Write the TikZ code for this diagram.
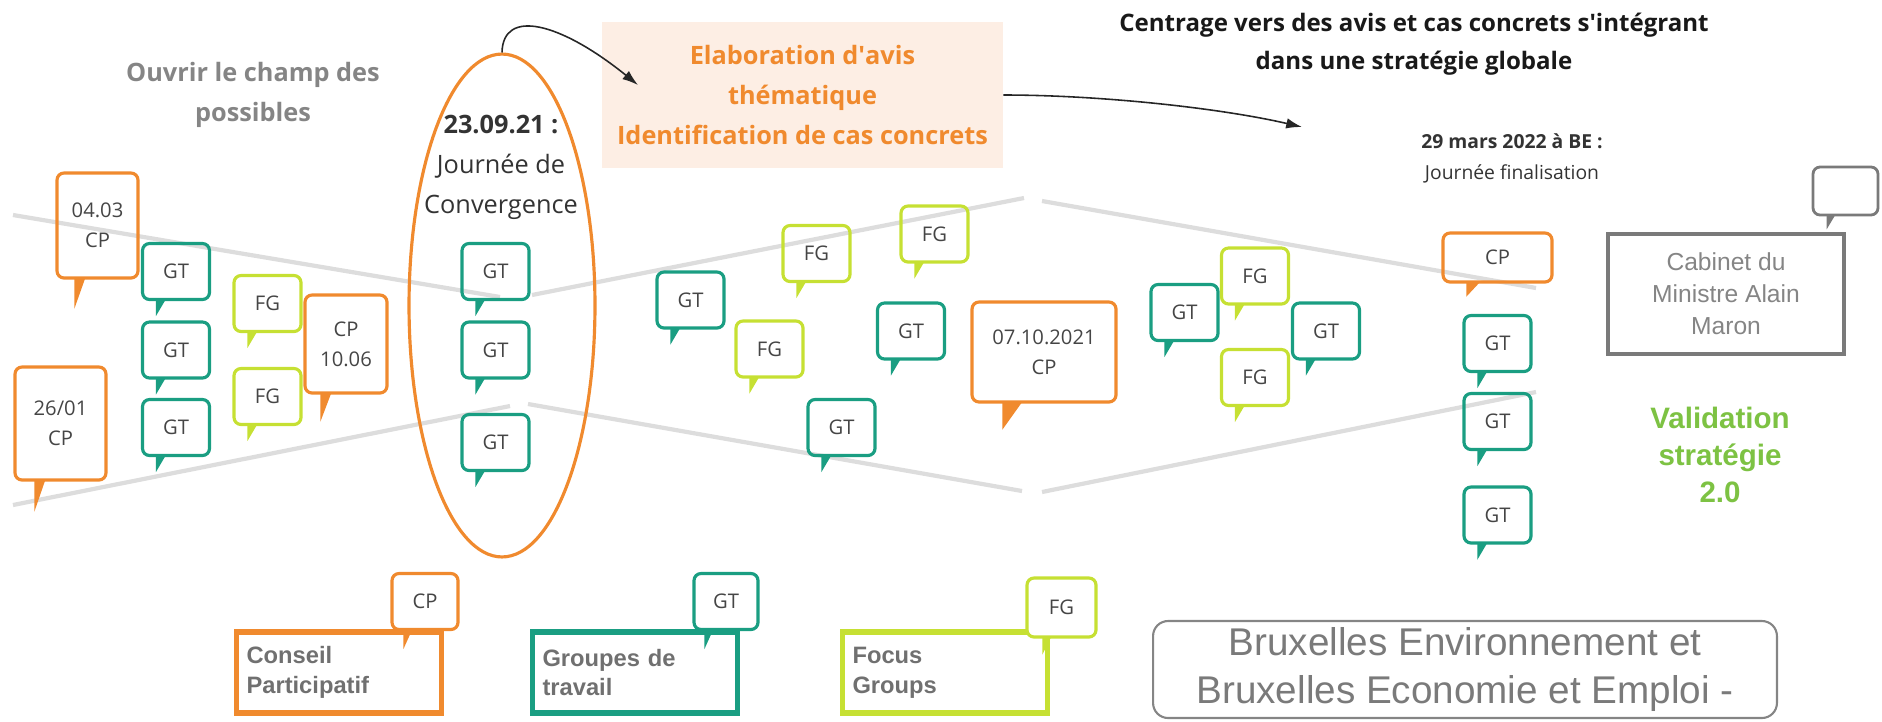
\documentclass[tikz,border=0pt]{standalone}
\usepackage{fontspec}
\setmainfont{Open Sans}
\newfontfamily\arialfont{Liberation Sans}
\usetikzlibrary{shapes.geometric,arrows.meta}

\definecolor{cporange}{HTML}{F08A2E}
\definecolor{gtteal}{HTML}{1A9E82}
\definecolor{fglime}{HTML}{C6E033}
\definecolor{valgreen}{HTML}{7DC243}
\definecolor{funnelgray}{HTML}{DDDDDD}
\definecolor{peach}{HTML}{FDEEE4}
\definecolor{bubtext}{HTML}{454545}
\definecolor{boxgray}{HTML}{7A7A7A}
\definecolor{softgray}{HTML}{858585}
\definecolor{legtext}{HTML}{707070}

\tikzset{
  bubble/.style={draw=#1, line width=1.8pt, rounded corners=4pt, minimum width=1.34cm, minimum height=1.12cm, inner sep=1pt, align=center, text=bubtext, font=\fontsize{11.5}{17}\selectfont},
  legend/.style={draw=#1, line width=3.2pt, minimum width=4.1cm, minimum height=1.62cm, text width=3.7cm, inner xsep=0.2cm, align=left, text=legtext, font=\arialfont\bfseries\fontsize{13.5}{17}\selectfont},
  funnel/.style={draw=funnelgray, line width=2.4pt},
  pointer/.style={-{Latex[length=9pt,width=6pt]}, line width=0.9pt, draw=black!85}
}
\newcommand{\tail}[5]{\fill[#2, shift={(#1.south west)}] (#3,-2) -- (#3+#4,-2) -- (#3,#5) -- cycle;}

\begin{document}
\begin{tikzpicture}[x=0.02cm, y=-0.02cm]
\useasboundingbox (0,0) rectangle (1882,721);

\draw[funnel] (13,215) -- (500,297);
\draw[funnel] (532,295) -- (1024,198);
\draw[funnel] (1042,201) -- (1536,288);
\draw[funnel] (13,505) -- (510,406);
\draw[funnel] (528,404) -- (1022,491);
\draw[funnel] (1042,492) -- (1536,392);

\node[text=softgray, align=center, font=\bfseries\fontsize{14.4}{22.8}\selectfont] (ouvrir) at (253,95) {Ouvrir le champ des\\possibles};
\node[fill=peach, minimum width=8.02cm, minimum height=2.92cm, text=cporange, align=center, font=\bfseries\fontsize{14.4}{22.8}\selectfont] (elab) at (802.5,95) {Elaboration d\textquotesingle avis\\thématique\\Identification de cas concrets};
\node[text=black!90, align=center, font=\bfseries\fontsize{13.7}{21.6}\selectfont] (centrage) at (1414,44) {Centrage vers des avis et cas concrets s\textquotesingle intégrant\\dans une stratégie globale};
\node[text=black!80, align=center, font=\fontsize{11}{17.6}\selectfont] (finale) at (1512,158.5) {\textbf{29 mars 2022 à BE :}\\Journée finalisation};

\node[ellipse, draw=cporange, line width=1.8pt, minimum width=3.72cm, minimum height=10.06cm] (conv) at (502,305.5) {};
\node[text=black!80, align=center, font=\fontsize{14.4}{22.8}\selectfont] (convtext) at (501,167.5) {\textbf{23.09.21 :}\\Journée de\\Convergence};

\coordinate (elabin) at (638,85);
\coordinate (centr) at (1302,127);
\draw[pointer] (conv.north) .. controls (503,8) and (560,22) .. (elabin);
\draw[pointer] (elab.east) .. controls (1100,95) and (1220,108) .. (centr);

\node[bubble=cporange, minimum width=1.62cm, minimum height=2.1cm] (cpMars) at (97.5,225.5) {04.03\\CP};
\tail{cpMars}{cporange}{19}{11}{29}
\node[bubble=cporange, minimum width=1.82cm, minimum height=2.26cm] (cpJan) at (60.5,423.5) {26/01\\CP};
\tail{cpJan}{cporange}{21}{11}{30}
\node[bubble=gtteal] (gtA) at (176,271.5) {GT};
\tail{gtA}{gtteal}{15}{10}{15}
\node[bubble=gtteal] (gtB) at (176,350) {GT};
\tail{gtB}{gtteal}{15}{10}{15}
\node[bubble=gtteal] (gtC) at (176,427.5) {GT};
\tail{gtC}{gtteal}{15}{10}{15}
\node[bubble=fglime] (fgA) at (267.5,303.5) {FG};
\tail{fgA}{fglime}{15}{10}{15}
\node[bubble=fglime] (fgB) at (267.5,396.5) {FG};
\tail{fgB}{fglime}{15}{10}{15}
\node[bubble=cporange, minimum width=1.64cm, minimum height=1.96cm] (cpJuin) at (346,344) {CP\\10.06};
\tail{cpJuin}{cporange}{17}{11}{27}

\node[bubble=gtteal] (gtD) at (495.5,271.5) {GT};
\tail{gtD}{gtteal}{15}{10}{15}
\node[bubble=gtteal] (gtE) at (495.5,350) {GT};
\tail{gtE}{gtteal}{15}{10}{15}
\node[bubble=gtteal] (gtF) at (495.5,442.5) {GT};
\tail{gtF}{gtteal}{15}{10}{15}

\node[bubble=gtteal] (gtG) at (690.5,300) {GT};
\tail{gtG}{gtteal}{15}{10}{15}
\node[bubble=fglime] (fgC) at (816.5,253.5) {FG};
\tail{fgC}{fglime}{15}{10}{15}
\node[bubble=fglime] (fgD) at (934.5,234) {FG};
\tail{fgD}{fglime}{15}{10}{15}
\node[bubble=fglime] (fgE) at (769.5,349) {FG};
\tail{fgE}{fglime}{15}{10}{15}
\node[bubble=gtteal] (gtH) at (911,331) {GT};
\tail{gtH}{gtteal}{15}{10}{15}
\node[bubble=gtteal] (gtI) at (841.5,427.5) {GT};
\tail{gtI}{gtteal}{15}{10}{15}
\node[bubble=cporange, minimum width=2.88cm, minimum height=2cm] (cpOct) at (1044,352) {07.10.2021\\CP};
\tail{cpOct}{cporange}{32}{20}{26}

\node[bubble=gtteal] (gtJ) at (1184.5,312.5) {GT};
\tail{gtJ}{gtteal}{15}{10}{15}
\node[bubble=fglime] (fgF) at (1255,276) {FG};
\tail{fgF}{fglime}{15}{10}{15}
\node[bubble=fglime] (fgG) at (1255,377.5) {FG};
\tail{fgG}{fglime}{15}{10}{15}
\node[bubble=gtteal] (gtK) at (1326,331) {GT};
\tail{gtK}{gtteal}{15}{10}{15}

\node[bubble=cporange, minimum width=2.18cm, minimum height=0.98cm] (cpFin) at (1497.5,257.5) {CP};
\tail{cpFin}{cporange}{25}{14}{13}
\node[bubble=gtteal] (gtL) at (1497.5,343.5) {GT};
\tail{gtL}{gtteal}{15}{10}{15}
\node[bubble=gtteal] (gtM) at (1497.5,421.5) {GT};
\tail{gtM}{gtteal}{15}{10}{15}
\node[bubble=gtteal] (gtN) at (1497.5,515) {GT};
\tail{gtN}{gtteal}{15}{10}{15}

\node[draw=boxgray, line width=2.3pt, minimum width=4.72cm, minimum height=2.4cm, text=softgray, align=center, font=\arialfont\fontsize{14}{18.2}\selectfont] (cabinet) at (1726,294) {Cabinet du\\Ministre Alain\\Maron};
\node[bubble=boxgray, line width=1.6pt, minimum width=1.3cm, minimum height=0.96cm] (cab) at (1845.5,191) {};
\tail{cab}{boxgray}{15}{9}{13}
\node[text=valgreen, align=center, font=\arialfont\bfseries\fontsize{16.8}{21.3}\selectfont] (valid) at (1720,455) {Validation\\stratégie\\2.0};

\node[legend=cporange] (legCP) at (339,672.5) {Conseil\\Participatif};
\node[bubble=cporange, fill=white, minimum width=1.32cm] (keyCP) at (425,601.5) {CP};
\tail{keyCP}{cporange}{13}{9}{18}
\node[legend=gtteal] (legGT) at (635,672.5) {Groupes de\\travail};
\node[bubble=gtteal, fill=white, minimum width=1.28cm] (keyGT) at (726,601.5) {GT};
\tail{keyGT}{gtteal}{12}{9}{18}
\node[legend=fglime] (legFG) at (945,672.5) {Focus\\Groups};
\node[bubble=fglime, fill=white, minimum width=1.38cm, minimum height=1.18cm] (keyFG) at (1061.5,607.5) {FG};
\tail{keyFG}{fglime}{17}{9}{16}

\node[draw=softgray, line width=1.2pt, rounded corners=0.3cm, minimum width=12.48cm, minimum height=1.94cm, text=boxgray, align=center, font=\arialfont\fontsize{22}{27}\selectfont] (bxl) at (1465,669.5) {Bruxelles Environnement et\\Bruxelles Economie et Emploi -};
\end{tikzpicture}
\end{document}
